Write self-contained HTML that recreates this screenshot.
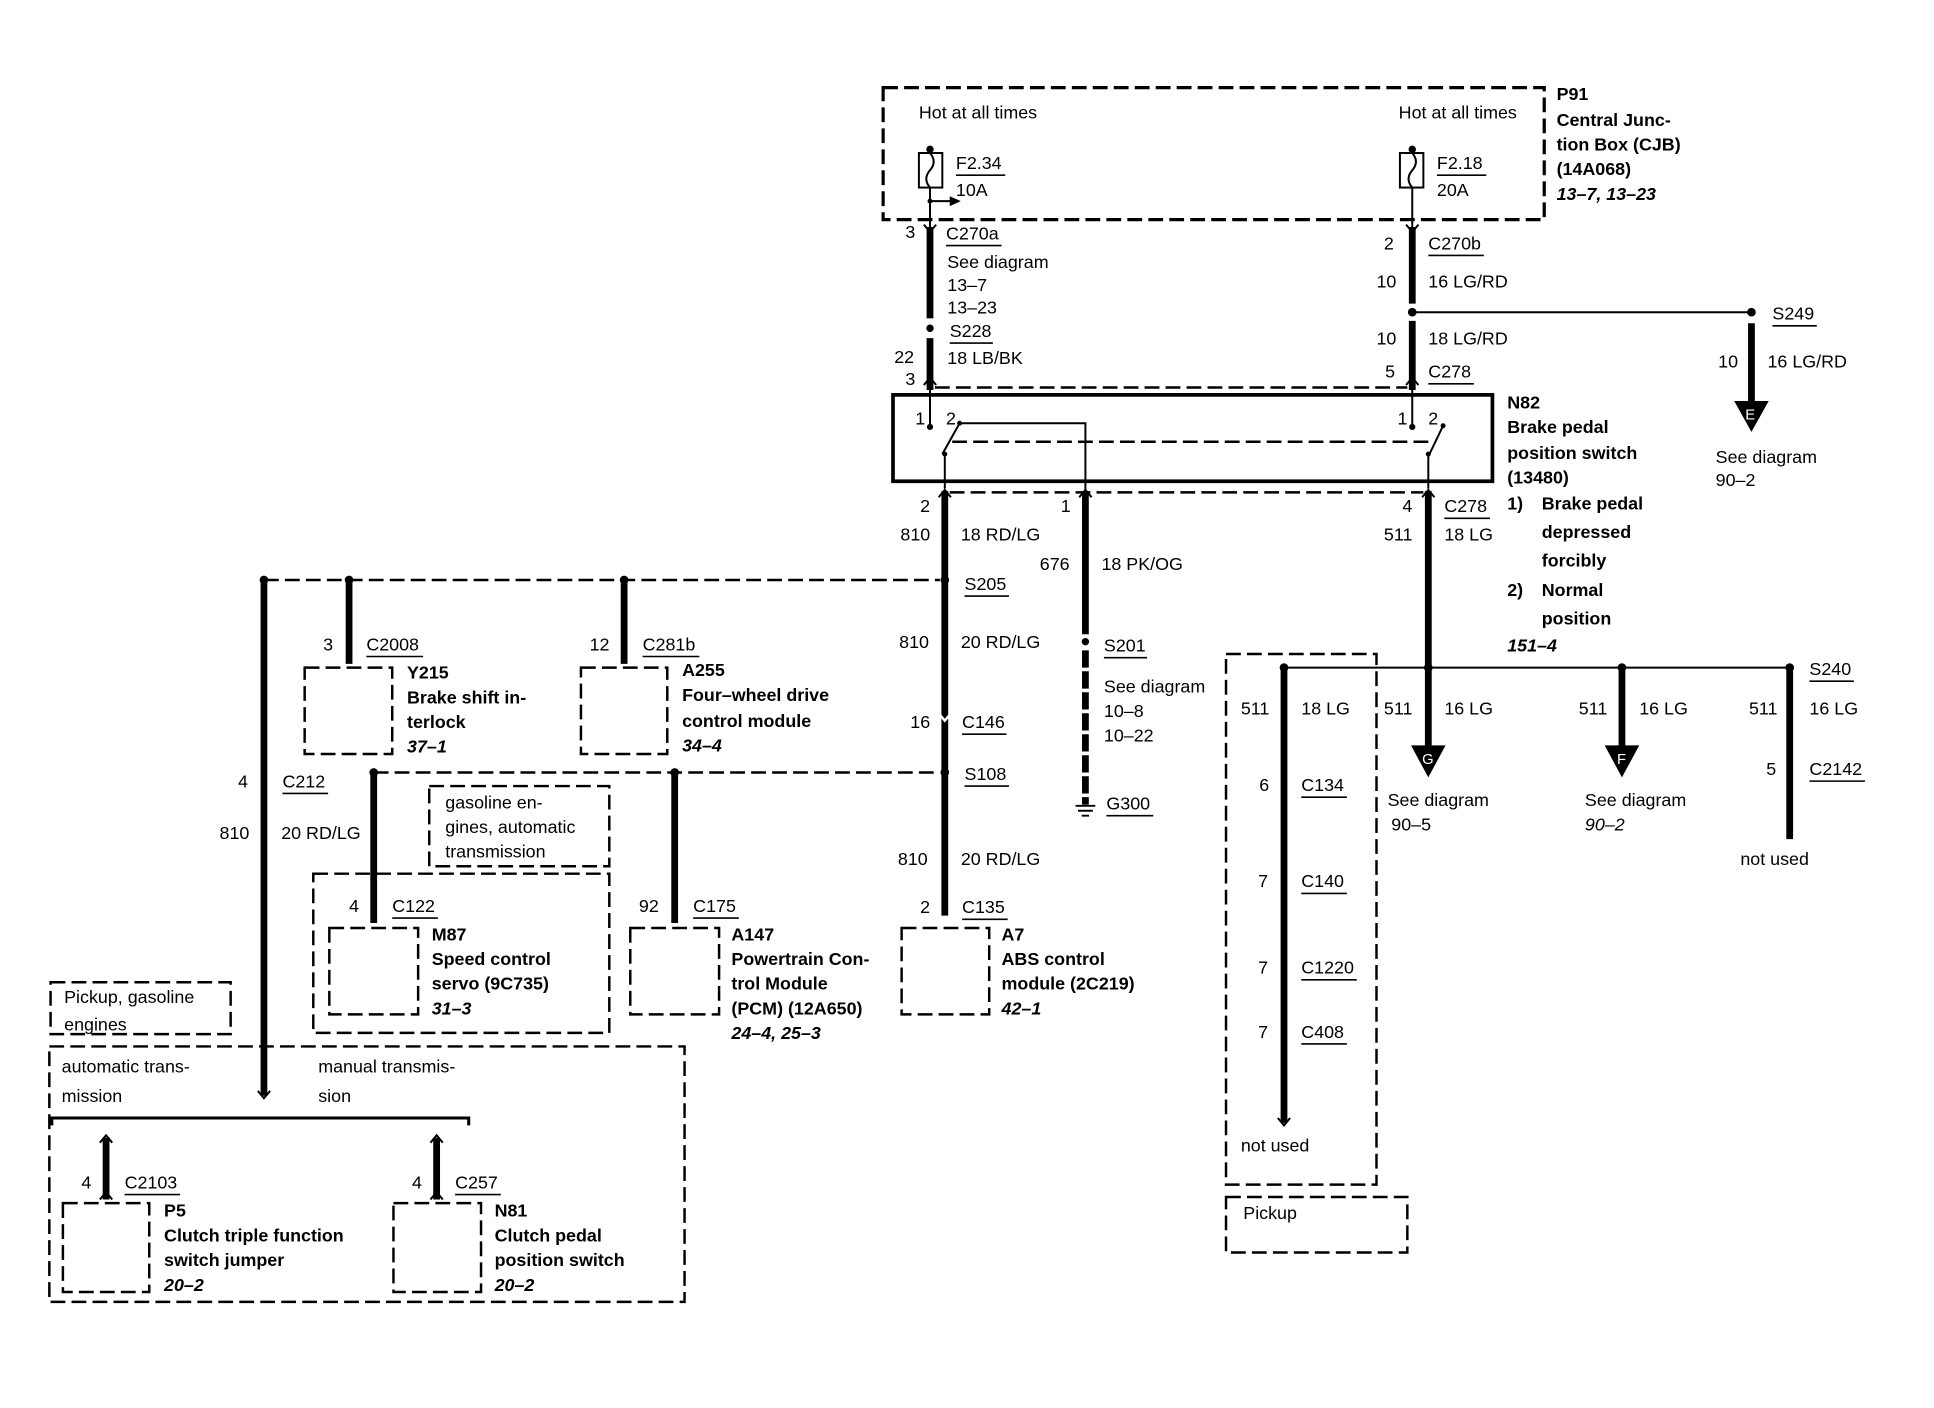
<!DOCTYPE html>
<html><head><meta charset="utf-8"><style>
html,body{margin:0;padding:0;background:#fff}
svg{display:block}
text{font-family:"Liberation Sans",sans-serif;font-size:14.5px;fill:#000}
.b{font-weight:bold}
.i{font-style:italic;font-weight:bold}
.t{stroke:#000;stroke-width:5.5;fill:none}
.n{stroke:#000;stroke-width:1.6;fill:none}
.d{stroke:#000;stroke-width:2;fill:none;stroke-dasharray:12 5}
.d3{stroke:#000;stroke-width:2.6;fill:none;stroke-dasharray:12 5}
.u{stroke:#000;stroke-width:1.3}
</style></head><body>
<svg width="1934" height="1408" viewBox="0 0 1568 1141" preserveAspectRatio="none" xmlns="http://www.w3.org/2000/svg">
<rect width="1568" height="1141" fill="#fff"/>
<g id="top">
<rect x="716" y="71" width="536" height="107" class="d3"/>
<text x="745" y="96">Hot at all times</text>
<text x="1134" y="96">Hot at all times</text>
<text x="1262" y="81" class="b">P91</text>
<text x="1262" y="102" class="b">Central Junc-</text>
<text x="1262" y="122" class="b">tion Box (CJB)</text>
<text x="1262" y="142" class="b">(14A068)</text>
<text x="1262" y="162" class="i">13–7, 13–23</text>
<circle cx="754" cy="121" r="3"/>
<rect x="745" y="124" width="19" height="28" class="n"/>
<path d="M754 124 q6 7 0 14 q-6 7 0 14" class="n"/>
<text x="775" y="137">F2.34</text><line x1="775" y1="142" x2="815" y2="142" class="u"/>
<text x="775" y="159">10A</text>
<circle cx="1145" cy="121" r="3"/>
<rect x="1135" y="124" width="19" height="28" class="n"/>
<path d="M1145 124 q6 7 0 14 q-6 7 0 14" class="n"/>
<text x="1165" y="137">F2.18</text><line x1="1165" y1="142" x2="1205" y2="142" class="u"/>
<text x="1165" y="159">20A</text>
<line x1="754" y1="152" x2="754" y2="184" class="n"/>
<circle cx="754" cy="163" r="2"/>
<line x1="754" y1="163" x2="772" y2="163" class="n"/>
<path d="M770 159 L779 163 L770 167Z"/>
<line x1="1145" y1="152" x2="1145" y2="184" class="n"/>
<line x1="754" y1="184" x2="754" y2="258" class="t"/>
<circle cx="754" cy="266" r="3"/>
<line x1="754" y1="274" x2="754" y2="316" class="t"/>
<path d="M749 182 L754 188 L759 182 M749 312 L754 306 L759 312" class="n"/>
<text x="734" y="193">3</text>
<text x="767" y="194">C270a</text><line x1="767" y1="199" x2="812" y2="199" class="u"/>
<text x="768" y="217">See diagram</text>
<text x="768" y="236">13–7</text>
<text x="768" y="254">13–23</text>
<text x="770" y="273">S228</text><line x1="770" y1="278" x2="805" y2="278" class="u"/>
<text x="725" y="294">22</text>
<text x="768" y="295">18 LB/BK</text>
<text x="734" y="312">3</text>
<line x1="1145" y1="184" x2="1145" y2="246" class="t"/>
<circle cx="1145" cy="253" r="3.5"/>
<line x1="1145" y1="260" x2="1145" y2="316" class="t"/>
<path d="M1140 182 L1145 188 L1150 182 M1140 312 L1145 306 L1150 312" class="n"/>
<text x="1122" y="202">2</text>
<text x="1158" y="202">C270b</text><line x1="1158" y1="207" x2="1203" y2="207" class="u"/>
<text x="1116" y="233">10</text><text x="1158" y="233">16 LG/RD</text>
<line x1="1145" y1="253" x2="1420" y2="253" class="n"/>
<circle cx="1420" cy="253" r="3.5"/>
<text x="1437" y="259">S249</text><line x1="1437" y1="264" x2="1473" y2="264" class="u"/>
<text x="1116" y="279">10</text><text x="1158" y="279">18 LG/RD</text>
<text x="1123" y="306">5</text>
<text x="1158" y="306">C278</text><line x1="1158" y1="311" x2="1195" y2="311" class="u"/>
<line x1="758" y1="314" x2="1141" y2="314" class="d"/>
<line x1="1420" y1="262" x2="1420" y2="326" class="t"/>
<path d="M1406 325 L1434 325 L1420 350Z"/>
<text x="1415" y="340" style="fill:#fff;font-size:12px">E</text>
<text x="1393" y="298">10</text><text x="1433" y="298">16 LG/RD</text>
<text x="1391" y="375">See diagram</text>
<text x="1391" y="394">90–2</text>
</g>
<g id="n82">
<rect x="724" y="320" width="486" height="70" style="stroke:#000;stroke-width:3;fill:none"/>
<line x1="754" y1="316" x2="754" y2="345" class="n"/><circle cx="754" cy="346" r="2.5"/>
<line x1="1145" y1="316" x2="1145" y2="345" class="n"/><circle cx="1145" cy="346" r="2.5"/>
<text x="742" y="344">1</text><text x="767" y="344">2</text>
<text x="1133" y="344">1</text><text x="1158" y="344">2</text>
<circle cx="778" cy="343" r="2"/>
<polyline points="764,368 778,343 880,343 880,398" class="n"/>
<line x1="766" y1="368" x2="766" y2="396" class="n"/><circle cx="766" cy="368" r="2"/>
<line x1="772" y1="358" x2="1160" y2="358" class="d"/>
<circle cx="1170" cy="345" r="2"/>
<line x1="1158" y1="370" x2="1170" y2="345" class="n"/>
<line x1="1158" y1="368" x2="1158" y2="396" class="n"/><circle cx="1158" cy="368" r="2"/>
<text x="1222" y="331" class="b">N82</text>
<text x="1222" y="351" class="b">Brake pedal</text>
<text x="1222" y="372" class="b">position switch</text>
<text x="1222" y="392" class="b">(13480)</text>
<text x="1222" y="413" class="b">1)</text><text x="1250" y="413" class="b">Brake pedal</text>
<text x="1250" y="436" class="b">depressed</text>
<text x="1250" y="459" class="b">forcibly</text>
<text x="1222" y="483" class="b">2)</text><text x="1250" y="483" class="b">Normal</text>
<text x="1250" y="506" class="b">position</text>
<text x="1222" y="528" class="i">151–4</text>
<line x1="770" y1="399" x2="1154" y2="399" class="d"/>
<path d="M761 403 L766 397 L771 403 M875 403 L880 397 L885 403 M1153 403 L1158 397 L1163 403" class="n"/>
</g>
<g id="mid">
<line x1="766" y1="398" x2="766" y2="742" class="t"/>
<text x="746" y="415">2</text><text x="730" y="438">810</text><text x="779" y="438">18 RD/LG</text>
<circle cx="766" cy="470" r="3.5"/>
<text x="782" y="478">S205</text><line x1="782" y1="483" x2="818" y2="483" class="u"/>
<text x="729" y="525">810</text><text x="779" y="525">20 RD/LG</text>
<path d="M761 578 L766 584 L771 578" class="n" style="stroke:#fff;stroke-width:2"/>
<text x="738" y="590">16</text>
<text x="780" y="590">C146</text><line x1="780" y1="595" x2="816" y2="595" class="u"/>
<circle cx="766" cy="626" r="3.5"/>
<text x="782" y="632">S108</text><line x1="782" y1="637" x2="818" y2="637" class="u"/>
<text x="728" y="701">810</text><text x="779" y="701">20 RD/LG</text>
<text x="746" y="740">2</text>
<text x="780" y="740">C135</text><line x1="780" y1="745" x2="817" y2="745" class="u"/>
<rect x="731" y="752" width="71" height="70" class="d"/>
<text x="812" y="762" class="b">A7</text>
<text x="812" y="782" class="b">ABS control</text>
<text x="812" y="802" class="b">module (2C219)</text>
<text x="812" y="822" class="i">42–1</text>
<line x1="880" y1="398" x2="880" y2="514" class="t"/>
<text x="860" y="415">1</text><text x="843" y="462">676</text><text x="893" y="462">18 PK/OG</text>
<circle cx="880" cy="520" r="3"/>
<line x1="880" y1="527" x2="880" y2="652" class="t" style="stroke-dasharray:14 3"/>
<text x="895" y="528">S201</text><line x1="895" y1="533" x2="930" y2="533" class="u"/>
<text x="895" y="561">See diagram</text>
<text x="895" y="581">10–8</text>
<text x="895" y="601">10–22</text>
<path d="M872 653 L888 653 M874 657 L886 657 M877 661 L883 661" class="n"/>
<text x="897" y="656">G300</text><line x1="897" y1="661" x2="935" y2="661" class="u"/>
<line x1="214" y1="470" x2="762" y2="470" class="d"/>
<circle cx="214" cy="470" r="3.5"/><circle cx="283" cy="470" r="3.5"/><circle cx="506" cy="470" r="3.5"/>
<line x1="283" y1="470" x2="283" y2="538" class="t"/>
<text x="262" y="527">3</text>
<text x="297" y="527">C2008</text><line x1="297" y1="532" x2="343" y2="532" class="u"/>
<rect x="247" y="541" width="71" height="70" class="d"/>
<text x="330" y="550" class="b">Y215</text>
<text x="330" y="570" class="b">Brake shift in-</text>
<text x="330" y="590" class="b">terlock</text>
<text x="330" y="610" class="i">37–1</text>
<line x1="506" y1="470" x2="506" y2="538" class="t"/>
<text x="478" y="527">12</text>
<text x="521" y="527">C281b</text><line x1="521" y1="532" x2="567" y2="532" class="u"/>
<rect x="471" y="541" width="70" height="70" class="d"/>
<text x="553" y="548" class="b">A255</text>
<text x="553" y="568" class="b">Four–wheel drive</text>
<text x="553" y="589" class="b">control module</text>
<text x="553" y="609" class="i">34–4</text>
<line x1="303" y1="626" x2="762" y2="626" class="d"/>
<circle cx="303" cy="626" r="3.5"/><circle cx="547" cy="626" r="3.5"/>
<line x1="303" y1="626" x2="303" y2="748" class="t"/>
<line x1="547" y1="626" x2="547" y2="748" class="t"/>
<rect x="348" y="637" width="146" height="65" class="d"/>
<text x="361" y="655">gasoline en-</text>
<text x="361" y="675">gines, automatic</text>
<text x="361" y="695">transmission</text>
<rect x="254" y="708" width="240" height="129" class="d"/>
<text x="283" y="739">4</text>
<text x="318" y="739">C122</text><line x1="318" y1="744" x2="355" y2="744" class="u"/>
<rect x="267" y="752" width="72" height="70" class="d"/>
<text x="350" y="762" class="b">M87</text>
<text x="350" y="782" class="b">Speed control</text>
<text x="350" y="802" class="b">servo (9C735)</text>
<text x="350" y="822" class="i">31–3</text>
<text x="518" y="739">92</text>
<text x="562" y="739">C175</text><line x1="562" y1="744" x2="599" y2="744" class="u"/>
<rect x="511" y="752" width="72" height="70" class="d"/>
<text x="593" y="762" class="b">A147</text>
<text x="593" y="782" class="b">Powertrain Con-</text>
<text x="593" y="802" class="b">trol Module</text>
<text x="593" y="822" class="b">(PCM) (12A650)</text>
<text x="593" y="842" class="i">24–4, 25–3</text>
<line x1="214" y1="470" x2="214" y2="888" class="t"/>
<path d="M209 884 L214 890 L219 884" class="n"/>
<text x="193" y="638">4</text>
<text x="229" y="638">C212</text><line x1="229" y1="643" x2="266" y2="643" class="u"/>
<text x="178" y="680">810</text><text x="228" y="680">20 RD/LG</text>
</g>
<g id="bl">
<rect x="41" y="796" width="146" height="42" class="d"/>
<text x="52" y="813">Pickup, gasoline</text>
<text x="52" y="835">engines</text>
<rect x="40" y="848" width="515" height="207" class="d"/>
<text x="50" y="869">automatic trans-</text>
<text x="50" y="893">mission</text>
<text x="258" y="869">manual transmis-</text>
<text x="258" y="893">sion</text>
<path d="M42 912 L42 906 L380 906 L380 912" style="stroke:#000;stroke-width:2.5;fill:none"/>
<line x1="86" y1="922" x2="86" y2="972" class="t"/>
<path d="M81 926 L86 920 L91 926 M81 972 L86 966 L91 972" class="n"/>
<text x="66" y="963">4</text>
<text x="101" y="963">C2103</text><line x1="101" y1="968" x2="146" y2="968" class="u"/>
<rect x="51" y="975" width="70" height="72" class="d"/>
<text x="133" y="986" class="b">P5</text>
<text x="133" y="1006" class="b">Clutch triple function</text>
<text x="133" y="1026" class="b">switch jumper</text>
<text x="133" y="1046" class="i">20–2</text>
<line x1="354" y1="922" x2="354" y2="972" class="t"/>
<path d="M349 926 L354 920 L359 926 M349 972 L354 966 L359 972" class="n"/>
<text x="334" y="963">4</text>
<text x="369" y="963">C257</text><line x1="369" y1="968" x2="406" y2="968" class="u"/>
<rect x="319" y="975" width="71" height="72" class="d"/>
<text x="401" y="986" class="b">N81</text>
<text x="401" y="1006" class="b">Clutch pedal</text>
<text x="401" y="1026" class="b">position switch</text>
<text x="401" y="1046" class="i">20–2</text>
</g>
<g id="right">
<line x1="1158" y1="398" x2="1158" y2="606" class="t"/>
<text x="1137" y="415">4</text>
<text x="1171" y="415">C278</text><line x1="1171" y1="420" x2="1208" y2="420" class="u"/>
<text x="1122" y="438">511</text><text x="1171" y="438">18 LG</text>
<line x1="1041" y1="541" x2="1451" y2="541" class="n"/>
<circle cx="1041" cy="541" r="3.5"/><circle cx="1158" cy="541" r="3.5"/><circle cx="1315" cy="541" r="3.5"/><circle cx="1451" cy="541" r="3.5"/>
<text x="1467" y="547">S240</text><line x1="1467" y1="552" x2="1503" y2="552" class="u"/>
<rect x="994" y="530" width="122" height="430" class="d"/>
<line x1="1041" y1="541" x2="1041" y2="910" class="t"/>
<path d="M1036 906 L1041 912 L1046 906" class="n"/>
<text x="1006" y="579">511</text><text x="1055" y="579">18 LG</text>
<text x="1021" y="641">6</text><text x="1055" y="641">C134</text><line x1="1055" y1="646" x2="1092" y2="646" class="u"/>
<text x="1020" y="719">7</text><text x="1055" y="719">C140</text><line x1="1055" y1="724" x2="1092" y2="724" class="u"/>
<text x="1020" y="789">7</text><text x="1055" y="789">C1220</text><line x1="1055" y1="794" x2="1100" y2="794" class="u"/>
<text x="1020" y="841">7</text><text x="1055" y="841">C408</text><line x1="1055" y1="846" x2="1092" y2="846" class="u"/>
<text x="1006" y="933">not used</text>
<rect x="994" y="970" width="147" height="45" class="d"/>
<text x="1008" y="988">Pickup</text>
<text x="1122" y="579">511</text><text x="1171" y="579">16 LG</text>
<path d="M1144 604 L1172 604 L1158 630Z"/>
<text x="1153" y="619" style="fill:#fff;font-size:12px">G</text>
<text x="1125" y="653">See diagram</text>
<text x="1128" y="673">90–5</text>
<line x1="1315" y1="541" x2="1315" y2="606" class="t"/>
<text x="1280" y="579">511</text><text x="1329" y="579">16 LG</text>
<path d="M1301 604 L1329 604 L1315 630Z"/>
<text x="1311" y="619" style="fill:#fff;font-size:12px">F</text>
<text x="1285" y="653">See diagram</text>
<text x="1285" y="673" style="font-style:italic">90–2</text>
<line x1="1451" y1="541" x2="1451" y2="680" class="t"/>
<text x="1418" y="579">511</text><text x="1467" y="579">16 LG</text>
<text x="1432" y="628">5</text>
<text x="1467" y="628">C2142</text><line x1="1467" y1="633" x2="1512" y2="633" class="u"/>
<text x="1411" y="701">not used</text>
</g>
</svg>
</body></html>
